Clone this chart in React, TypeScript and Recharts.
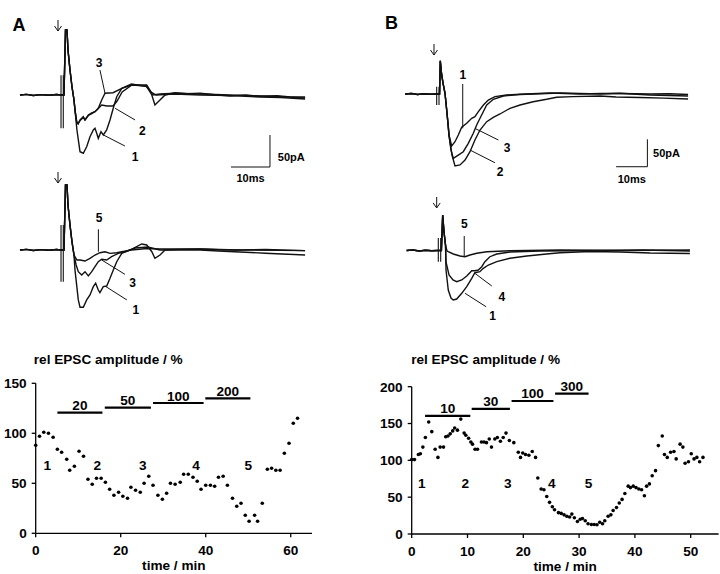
import React from 'react';
import {
  LineChart, Line, XAxis, YAxis, ReferenceLine, ReferenceDot,
  ScatterChart, Scatter, Label,
} from 'recharts';

type Pt = [number, number];

const FONT = '"Liberation Sans", Arial, Helvetica, sans-serif';

// ---- EPSC traces, time in ms (0 = stimulus), current in pA ----
const aPre: Pt[] = [[-10.9, 0], [-9.2, 1], [-7.5, -0.8], [-5.5, 0.6], [-3.5, -0.5], [-1.5, 0.8], [-0.5, 0]];
const aSpike: Pt[] = [[0.38, 0], [0.77, 101.6], [1.15, 101.6], [1.41, 70.3], [1.92, 39], [2.44, 12.5], [2.95, -7.8]];

const aTop1: Pt[] = [[3.2, -23.4], [3.7, -54.7], [4.49, -88.6], [5.33, -91], [6.2, -80.8], [7.05, -65.2], [7.9, -54.7], [8.33, -52], [8.77, -59.8], [9.18, -67.7], [9.87, -57.3], [10.46, -62.5], [11.33, -54.7], [12.18, -39], [13.03, -20.3], [13.9, -2.7], [15.2, 10.5], [17.7, 17.2], [21.6, 13], [22.9, 0], [23.7, -15.6], [25, -7.8], [26.3, 0], [28.8, 3.6], [32, 2], [35.3, 3], [39, 0.5], [43, -1.6], [47, 0], [50.6, -2], [55, -1], [58.5, -3], [62.2, -3.1]];
const aTop2: Pt[] = [[3.2, -23.4], [3.64, -41.7], [4.0, -45], [4.49, -40], [5.33, -35], [5.77, -39], [6.62, -32], [7.49, -29], [8.33, -26], [9.18, -21], [10.05, -15.6], [11.4, -17.2], [12.95, -17.2], [14, -9.4], [15.3, 4.7], [17.8, 15.6], [21.4, 14], [22.7, 4.7], [24, 0], [28.8, 1.6], [35.3, 0], [43, -1], [50.6, -3.1], [56, -4], [62.2, -6.3]];
const aTop3: Pt[] = [[3.2, -23.4], [3.64, -41.7], [4.0, -45], [4.49, -39], [5.33, -33.9], [5.77, -39], [6.62, -31.3], [7.49, -28], [8.33, -26], [9.18, -20.8], [10.05, -7.8], [10.9, 2.7], [12.95, 3.6], [15.2, 10.5], [17.7, 15.6], [21.6, 15.6], [22.4, 7.8], [23.2, 0], [25, 1.6], [28.8, 3], [35.3, 1.6], [43, 0], [50.6, -1.6], [56, -2.5], [62.2, -4.7]];

const aBot1: Pt[] = [[3.2, -31], [4.05, -78], [4.49, -89.5], [5.33, -89.5], [6.2, -78], [7.05, -70.3], [7.9, -57.3], [8.5, -52], [9.18, -62.5], [9.6, -66.7], [10.46, -57.3], [11.33, -56.3], [12.18, -44.2], [13.03, -31.3], [13.9, -18.3], [15.2, -5.2], [17.7, 1.1], [20.3, 9.4], [21.6, 7.8], [22.9, -2.7], [23.7, -13], [25, -7.8], [26.3, 0], [30, 1], [35.3, 1.6], [40, 0.5], [45, 0], [52, 0.8], [62.2, -1]];
const aBot3: Pt[] = [[3.5, -23.4], [4.05, -33.9], [4.92, -39], [5.77, -33.9], [6.62, -40.6], [7.49, -33.9], [8.33, -26], [9.18, -18.3], [10.05, -14.5], [11.33, -15.6], [12.6, -10.5], [14.3, -5.2], [16, -2.7], [18.6, 3.1], [21.9, 4.7], [25, 0], [35.3, 0], [40, -1.5], [45.5, -3.1], [52, -5], [62.2, -7.8]];
const aBot5: Pt[] = [[3.7, -15.6], [4.49, -15.6], [5.77, -17.2], [7.05, -13], [8.33, -7.8], [9.6, -4.2], [10.9, -2.7], [12.2, -5.2], [13.9, -4.2], [15.2, -2.7], [17.7, 0], [21.6, 2.3], [25, 1.6], [35.3, 1.6], [45, 0], [62.2, -1]];

const bPre: Pt[] = [[-10.5, 0], [-8.5, 0.9], [-6.5, -0.9], [-4.5, 0.5], [-2.5, -0.4], [-0.6, 0]];
const bTopSpike: Pt[] = [[0.5, 0], [0.73, 61], [1.1, 38.5], [1.6, 20], [2.24, 1.3], [2.78, -29.3], [3.29, -59.9], [3.5, -75]];
const bTop1: Pt[] = [[4.37, -95.3], [5.43, -87.4], [6.49, -75.1], [7.57, -61], [9.17, -53.7], [10.77, -44.5], [11.8, -41.6], [12.9, -32.4], [14.5, -20.2], [16.07, -11], [18.2, -4.9], [21.9, -1.8], [26.2, -0.5], [35.8, 1.8], [45.4, 0], [52, 1], [58.1, 0.9], [67.7, 0], [74, 0.5], [79.9, -0.9]];
const bTop2: Pt[] = [[4.47, -111.8], [5.43, -131.9], [7.03, -130], [8.63, -120.9], [10.22, -105.7], [11.8, -84.3], [13.42, -66], [15.56, -50.7], [17.67, -42.7], [19.8, -36.6], [23, -26.2], [26.2, -20.2], [30.4, -14.1], [34.7, -9.7], [37.9, -6], [43.1, -4.9], [51.8, -3.7], [56.9, -5.5], [64.5, -6.4], [72, -7.5], [79.9, -9.2]];
const bTop3: Pt[] = [[4.15, -102.6], [4.89, -117.8], [6.49, -111.8], [8.08, -105.7], [9.68, -90.3], [11.28, -72], [12.36, -56.8], [13.42, -44.5], [14.47, -32.4], [15.56, -20.2], [17.67, -9.7], [20.86, -3.7], [26.2, -0.9], [39, 1.8], [51.8, 0], [58, 1.5], [67.7, -1.8], [79.9, -3.7]];

const bBotSpike: Pt[] = [[0.6, 0], [1.02, 65], [1.44, 33.9], [1.92, 10]];
const bBot1: Pt[] = [[2.08, -35.7], [2.8, -72.4], [3.67, -87], [4.4, -90.7], [5.5, -88.9], [7.1, -78.4], [8.7, -66.3], [10.3, -50.9], [11.3, -40.7], [12.9, -38.8], [14, -32.6], [15.6, -26.6], [18.3, -20.5], [22.5, -14.3], [27.9, -10.1], [34.2, -6.4], [38.5, -4], [48.1, -1.8], [57.7, -2.7], [67.3, -4.6], [80, -5.5]];
const bBot4: Pt[] = [[2.08, -21], [3.04, -44.9], [4.3, -54], [5.5, -57.2], [7.1, -54], [8.7, -46.7], [10.3, -37], [11.3, -37], [12.4, -35.7], [13.5, -29.7], [14.5, -20.5], [16.1, -11.4], [18.3, -6.4], [22.5, -2.7], [32.1, -0.9], [51.3, 0], [65, 1], [80, -0.9]];
const bBot5: Pt[] = [[2.4, -0.9], [2.8, -2.2], [4.4, -6.4], [6.55, -10.1], [8.15, -11.4], [9.74, -8.2], [11.9, -5.1], [15.1, -2.2], [22.5, -0.4], [38.5, 0.9], [57.7, 0], [80, 0.9]];

// stimulus artifacts (two vertical strokes)
const aTopArtifact: Pt[][] = [[[-0.38, 31], [-0.38, -52]], [[0.2, 31], [0.2, -52]]];
const aBotArtifact: Pt[][] = [[[-0.38, 39], [-0.38, -49.5]], [[0.2, 39], [0.2, -49.5]]];
const bTopArtifact: Pt[][] = [[[-0.42, 13.4], [-0.42, -20.2]], [[0.32, 13.4], [0.32, -20.2]]];
const bBotArtifact: Pt[][] = [[[-0.38, 22.9], [-0.38, -20.5]], [[0.38, 22.9], [0.38, -20.5]]];

// ---- time course, min vs rel EPSC amplitude % ----
const aTime = [0, 0.9, 1.9, 3.0, 4.1, 5.1, 6.1, 7.3, 8.0, 9.1, 10.2, 11.25, 12.3, 13.3, 14.3, 15.4, 16.4, 17.4, 18.4, 19.5, 20.5, 21.6, 22.4, 23.5, 24.6, 25.5, 26.6, 27.6, 28.75, 29.8, 30.8, 31.7, 32.8, 34.0, 34.8, 35.9, 37.0, 38.0, 38.9, 40.0, 41.1, 42.1, 43.0, 44.1, 45.1, 46.3, 47.3, 48.3, 49.3, 50.2, 51.5, 52.2, 53.3, 54.5, 55.5, 56.5, 57.5, 58.5, 59.6, 60.6, 61.6];
const aAmp = [88, 97, 101, 100, 96, 84, 81, 74, 63, 67, 82, 77, 54, 49, 55, 55, 51, 44, 38, 41, 37, 35, 46, 43, 41, 50, 57, 48, 38, 34, 40, 50, 49, 51, 59, 59, 56, 52, 44, 48, 48, 47, 56, 57, 48, 35, 27, 30, 18, 12, 18, 12, 30, 64, 65, 63, 63, 80, 90, 110, 115];

const bTime = [0, 0.5, 1.2, 1.55, 2.0, 2.45, 3.05, 3.6, 4.2, 4.7, 5.1, 5.7, 6.1, 6.5, 6.9, 7.35, 7.7, 8.2, 8.8, 9.4, 9.7, 10.2, 10.6, 10.9, 11.35, 11.8, 12.5, 12.96, 13.4, 13.9, 14.3, 14.9, 15.35, 15.9, 16.4, 16.9, 17.5, 18.3, 19.1, 19.5, 19.9, 20.4, 21.0, 21.6, 22.2, 22.6, 23.2, 23.7, 24.2, 24.7, 25.2, 25.6, 26.3, 26.8, 27.3, 27.8, 28.3, 28.7, 29.15, 29.7, 30.2, 30.6, 31.1, 31.6, 32.2, 32.7, 33.2, 33.7, 34.2, 34.6, 35.2, 35.7, 36.1, 36.7, 37.2, 37.7, 38.2, 38.8, 39.2, 39.7, 40.2, 40.7, 41.2, 41.7, 42.1, 42.6, 43.1, 43.7, 44.2, 44.9, 45.3, 45.8, 46.4, 47.0, 47.4, 48.1, 48.6, 49.0, 49.6, 50.1, 50.6, 51.1, 51.6, 52.2];
const bAmp = [101, 101, 108, 109, 118, 131, 152, 139, 115, 104, 118, 118, 132, 133, 136, 140, 144, 141, 156, 137, 134, 130, 125, 122, 115, 115, 125, 125, 124, 129, 118, 129, 131, 126, 131, 137, 127, 124, 111, 104, 110, 108, 107, 112, 104, 76, 61, 60, 51, 43, 37, 33, 29, 28, 26, 24, 23, 27, 22, 17, 20, 21, 18, 14, 13, 13, 12.6, 16, 14, 18, 24, 26, 32, 36, 42, 47, 55, 65, 63, 65, 63, 61, 60, 52, 65, 68, 79, 86, 120, 133, 108, 104, 111, 112, 102, 122, 118, 96, 98, 109, 102, 104, 98, 104];

// drug application bars
const aDrug = ['20', '50', '100', '200'];
const aDrugStart = [5.1, 16.25, 27.6, 39.9];
const aDrugEnd = [15.7, 27.1, 39.5, 50.5];
const aDrugLevel = [120.7, 125.7, 130.3, 135];
const bDrug = ['10', '30', '100', '300'];
const bDrugStart = [2.4, 10.75, 17.9, 25.7];
const bDrugEnd = [10.5, 17.6, 25.4, 31.7];
const bDrugLevel = [160.3, 170, 180.6, 190.5];

// sample markers 1-5 on the time course
const markNames = ['1', '2', '3', '4', '5'];
const aMarkTime = [2.7, 14.5, 25.2, 37.7, 50];
const bMarkTime = [1.8, 9.6, 17.2, 25.1, 31.7];

type Seg = [Pt, Pt];
type Note = { text: string; at: Pt; size: number; pos?: string };

type Panel = {
  left: number; top: number; w: number; h: number;
  stimX: number; baseY: number; pxMs: number; pxPa: number;
  traces: Pt[][];
  artifacts: Pt[][];
  pointers: Seg[];
  notes: Note[];
  arrowTip: Pt;
};

// stimulus arrow: shaft + two head strokes, sized in px and converted to data units
const arrowSegs = (p: Panel): Seg[] => {
  const [t, i] = p.arrowTip;
  const dx = 3.5 / p.pxMs;
  const hy = 5 / p.pxPa;
  const len = 11 / p.pxPa;
  return [
    [[t, i], [t, i + len]],
    [[t - dx, i + hy], [t, i]],
    [[t + dx, i + hy], [t, i]],
  ];
};

const TracePanel = ({ p }: { p: Panel }) => {
  const xDom = [-p.stimX / p.pxMs, (p.w - p.stimX) / p.pxMs];
  const yDom = [-(p.h - p.baseY) / p.pxPa, p.baseY / p.pxPa];
  const all = [...p.traces, ...p.artifacts];
  const segs = [...p.pointers, ...arrowSegs(p)];
  return (
    <div style={{ position: 'absolute', left: p.left, top: p.top }}>
      <LineChart width={p.w} height={p.h} margin={{ top: 0, right: 0, bottom: 0, left: 0 }}>
        <XAxis type="number" dataKey="t" domain={xDom} hide allowDataOverflow />
        <YAxis type="number" domain={yDom} hide allowDataOverflow />
        {all.map((tr, k) => (
          <Line
            key={k}
            data={tr.map(([t, i]) => ({ t, i }))}
            dataKey="i"
            type="linear"
            stroke="#111"
            strokeWidth={k < p.traces.length ? 1.4 : 1.1}
            dot={false}
            activeDot={false}
            isAnimationActive={false}
          />
        ))}
        {segs.map((s, k) => (
          <ReferenceLine
            key={'s' + k}
            segment={[{ x: s[0][0], y: s[0][1] }, { x: s[1][0], y: s[1][1] }]}
            stroke="#111"
            strokeWidth={1}
          />
        ))}
        {p.notes.map((n, k) => (
          <ReferenceDot
            key={'n' + k}
            x={n.at[0]}
            y={n.at[1]}
            r={0}
            fill="none"
            stroke="none"
            label={{
              value: n.text, position: n.pos || 'center', offset: 0, fill: '#000',
              fontSize: n.size, fontWeight: 'bold', fontFamily: FONT,
            }}
          />
        ))}
      </LineChart>
    </div>
  );
};

const panels: Panel[] = [
  {
    left: 0, top: 0, w: 360, h: 190, stimX: 62.5, baseY: 95, pxMs: 3.9, pxPa: 0.64,
    traces: [[...aPre, ...aSpike, ...aTop1], [...aPre, ...aSpike, ...aTop2], [...aPre, ...aSpike, ...aTop3]],
    artifacts: aTopArtifact,
    pointers: [
      [[9.6, 39], [10.9, 2.7]], [[13.5, -20.8], [18.6, -39]], [[10.5, -62.5], [16, -79.7]],
      [[53.2, -62.5], [53.2, -112.5]], [[43.2, -112.5], [53.2, -112.5]],
    ],
    notes: [
      { text: '3', at: [9.36, 50.5], size: 12 }, { text: '2', at: [20.5, -56], size: 12 },
      { text: '1', at: [18.6, -96], size: 12 },
      { text: '50pA', at: [55.2, -96.4], size: 11, pos: 'right' }, { text: '10ms', at: [48.2, -130.2], size: 11 },
    ],
    arrowTip: [-1.15, 100],
  },
  {
    left: 0, top: 160, w: 360, h: 180, stimX: 62.5, baseY: 90, pxMs: 3.9, pxPa: 0.64,
    traces: [[...aPre, ...aSpike, ...aBot1], [...aPre, ...aSpike, ...aBot3], [...aPre, ...aSpike, ...aBot5]],
    artifacts: aBotArtifact,
    pointers: [[[9.2, 32.3], [9.2, -2.7]], [[10.05, -15.6], [16, -38]], [[11.15, -57.3], [16.5, -78]]],
    notes: [
      { text: '5', at: [9.4, 51], size: 12 }, { text: '3', at: [18, -51], size: 12 },
      { text: '1', at: [18.8, -93.8], size: 12 },
    ],
    arrowTip: [-1.15, 104.7],
  },
  {
    left: 360, top: 0, w: 360, h: 190, stimX: 78, baseY: 94, pxMs: 3.13, pxPa: 0.546,
    traces: [[...bPre, ...bTopSpike, ...bTop1], [...bPre, ...bTopSpike, ...bTop2], [...bPre, ...bTopSpike, ...bTop3]],
    artifacts: bTopArtifact,
    pointers: [
      [[7.9, 18.3], [7.9, -62.8]], [[11.8, -63], [19.3, -84.3]], [[10.2, -102.6], [18.2, -125.9]],
      [[66.9, -83], [66.9, -133.2]], [[56.9, -133.2], [66.9, -133.2]],
    ],
    notes: [
      { text: '1', at: [7.9, 35.4], size: 12 }, { text: '3', at: [22.1, -97.6], size: 12 },
      { text: '2', at: [19.8, -142.3], size: 12 },
      { text: '50pA', at: [68.7, -107.5], size: 11, pos: 'right' }, { text: '10ms', at: [61.9, -155.7], size: 11 },
    ],
    arrowTip: [-1.28, 71.4],
  },
  {
    left: 360, top: 160, w: 360, h: 180, stimX: 79.5, baseY: 90.5, pxMs: 3.13, pxPa: 0.546,
    traces: [[...bPre, ...bBotSpike, ...bBot1], [...bPre, ...bBotSpike, ...bBot4], [...bPre, ...bBotSpike, ...bBot5]],
    artifacts: bBotArtifact,
    pointers: [[[7.9, 26.6], [7.9, -11.4]], [[11.3, -41.8], [16.7, -65]], [[8.15, -78.4], [14.9, -103]]],
    notes: [
      { text: '5', at: [7.9, 49.8], size: 12 }, { text: '4', at: [19.9, -84.6], size: 12 },
      { text: '1', at: [17, -120], size: 12 },
    ],
    arrowTip: [-0.9, 77.9],
  },
];

const tickStyle = { fill: '#000', fontSize: 13.6, fontWeight: 'bold', fontFamily: FONT };
const axisStroke = { stroke: '#000', strokeWidth: 1.3 };

const Dot = (props: any) => <circle cx={props.cx} cy={props.cy} r={1.8} fill="#000" />;

type Course = {
  left: number; w: number; margin: { top: number; right: number; bottom: number; left: number };
  times: number[]; amps: number[]; xMax: number; xTicks: number[]; yMax: number; yTicks: number[];
  drug: string[]; drugStart: number[]; drugEnd: number[]; drugLevel: number[];
  markTime: number[]; markLevel: number;
};

const TimeCourse = ({ c }: { c: Course }) => {
  const rows = c.times.map((t, k) => ({ t, v: c.amps[k] }));
  return (
    <div style={{ position: 'absolute', left: c.left, top: 340 }}>
      <ScatterChart width={c.w} height={234} margin={c.margin}>
        <XAxis
          type="number" dataKey="t" domain={[0, c.xMax]} ticks={c.xTicks} interval={0}
          height={40} tickSize={4} tickMargin={8} axisLine={axisStroke} tickLine={axisStroke} tick={tickStyle}
        >
          <Label value="time / min" position="insideBottom" offset={3.3} fill="#000" fontSize={13.6} fontWeight="bold" fontFamily={FONT} />
        </XAxis>
        <YAxis
          type="number" dataKey="v" domain={[0, c.yMax]} ticks={c.yTicks} interval={0}
          width={35} tickSize={4} tickMargin={5} axisLine={axisStroke} tickLine={axisStroke} tick={tickStyle}
        />
        <Scatter data={rows} shape={Dot} isAnimationActive={false} />
        {c.drug.map((d, k) => (
          <ReferenceLine
            key={'d' + k}
            segment={[{ x: c.drugStart[k], y: c.drugLevel[k] }, { x: c.drugEnd[k], y: c.drugLevel[k] }]}
            stroke="#000"
            strokeWidth={2.2}
            label={{ value: d, position: 'top', offset: 2.5, fill: '#000', fontSize: 13.6, fontWeight: 'bold', fontFamily: FONT }}
          />
        ))}
        {markNames.map((m, k) => (
          <ReferenceDot
            key={'m' + k}
            x={c.markTime[k]}
            y={c.markLevel}
            r={0}
            fill="none"
            stroke="none"
            label={{ value: m, position: 'center', offset: 0, fill: '#000', fontSize: 13.6, fontWeight: 'bold', fontFamily: FONT }}
          />
        ))}
      </ScatterChart>
    </div>
  );
};

const courses: Course[] = [
  {
    left: 0, w: 330, margin: { top: 43.3, right: 18, bottom: 0.7, left: 0.7 },
    times: aTime, amps: aAmp, xMax: 65, xTicks: [0, 20, 40, 60], yMax: 150, yTicks: [0, 50, 100, 150],
    drug: aDrug, drugStart: aDrugStart, drugEnd: aDrugEnd, drugLevel: aDrugLevel,
    markTime: aMarkTime, markLevel: 68.3,
  },
  {
    left: 360, w: 360, margin: { top: 46.7, right: 1.4, bottom: 0, left: 16.7 },
    times: bTime, amps: bAmp, xMax: 55, xTicks: [0, 10, 20, 30, 40, 50], yMax: 200, yTicks: [0, 50, 100, 150, 200],
    drug: bDrug, drugStart: bDrugStart, drugEnd: bDrugEnd, drugLevel: bDrugLevel,
    markTime: bMarkTime, markLevel: 69,
  },
];

const textAbs = (left: number, top: number, size: number): React.CSSProperties => ({
  position: 'absolute', left, top, fontSize: size, lineHeight: `${size}px`, fontWeight: 'bold', whiteSpace: 'nowrap',
});

export default function App() {
  return (
    <div style={{ position: 'absolute', left: 0, top: 0, width: 720, height: 574, background: '#fff', fontFamily: FONT, color: '#000', overflow: 'hidden' }}>
      {panels.map((p, k) => <TracePanel key={k} p={p} />)}
      {courses.map((c, k) => <TimeCourse key={k} c={c} />)}
      <div style={textAbs(12.5, 16, 18)}>A</div>
      <div style={textAbs(385, 14.3, 18)}>B</div>
      <div style={textAbs(33.8, 353.3, 13.6)}>rel EPSC amplitude / %</div>
      <div style={textAbs(411.2, 353.3, 13.6)}>rel EPSC amplitude / %</div>
    </div>
  );
}
